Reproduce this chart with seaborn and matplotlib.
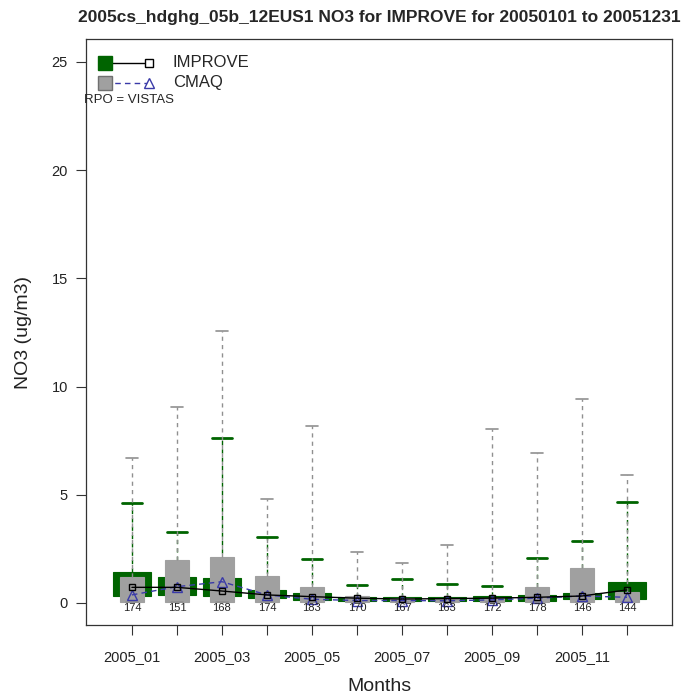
import numpy as np
import pandas as pd
import seaborn as sns
import matplotlib.pyplot as plt

# --- Datos (NO3, ug/m3) ---
months = ["2005_01", "2005_02", "2005_03", "2005_04", "2005_05", "2005_06",
          "2005_07", "2005_08", "2005_09", "2005_10", "2005_11", "2005_12"]
counts = [174, 151, 168, 174, 183, 170, 167, 163, 172, 178, 146, 144]

# IMPROVE (observaciones)
obs_q1 = [0.32, 0.37, 0.32, 0.22, 0.14, 0.11, 0.11, 0.11, 0.11, 0.11, 0.17, 0.17]
obs_q3 = [1.45, 1.19, 1.14, 0.60, 0.45, 0.29, 0.29, 0.29, 0.32, 0.37, 0.48, 0.98]
obs_med = [0.72, 0.72, 0.55, 0.37, 0.29, 0.22, 0.18, 0.20, 0.22, 0.26, 0.32, 0.60]
obs_whi = [4.62, 3.30, 7.64, 3.04, 2.05, 0.83, 1.11, 0.86, 0.79, 2.06, 2.88, 4.65]

# CMAQ (modelo)
mod_q1 = [0.06, 0.06, 0.06, 0.06, 0.06, 0.06, 0.06, 0.06, 0.06, 0.06, 0.06, 0.06]
mod_q3 = [1.20, 1.99, 2.11, 1.25, 0.72, 0.32, 0.23, 0.23, 0.25, 0.72, 1.63, 0.52]
mod_med = [0.37, 0.75, 0.98, 0.37, 0.17, 0.11, 0.11, 0.10, 0.14, 0.22, 0.32, 0.26]
mod_whi = [6.70, 9.06, 12.58, 4.80, 8.18, 2.37, 1.83, 2.68, 8.06, 6.95, 9.44, 5.91]

sns.set_theme(style="ticks")
plt.rcParams['font.family'] = ['Liberation Sans', 'DejaVu Sans']

green = "#006400"
gray = "#a0a0a0"
blue = "#3a3aa8"

fig = plt.figure(figsize=(6.83, 6.98), dpi=100)
ax = fig.add_axes([0.1259, 0.1046, 0.858, 0.8395])

x = np.arange(1, 13)

def make_stats(q1, q3, med, whi):
    return [{"q1": a, "q3": b, "med": m, "whislo": a, "whishi": w, "fliers": []}
            for a, b, m, w in zip(q1, q3, med, whi)]

# Cajas IMPROVE (verdes, anchas)
ax.bxp(make_stats(obs_q1, obs_q3, obs_med, obs_whi), positions=x, widths=0.83,
       capwidths=0.44, patch_artist=True, showfliers=False,
       boxprops=dict(facecolor=green, edgecolor=green, linewidth=0.8),
       whiskerprops=dict(color=green, linestyle=(0, (3, 3)), linewidth=1),
       capprops=dict(color=green, linewidth=2),
       medianprops=dict(color=green, linewidth=0))

# Cajas CMAQ (grises, estrechas)
ax.bxp(make_stats(mod_q1, mod_q3, mod_med, mod_whi), positions=x, widths=0.53,
       capwidths=0.27, patch_artist=True, showfliers=False,
       boxprops=dict(facecolor=gray, edgecolor=gray, linewidth=0.8),
       whiskerprops=dict(color="#909090", linestyle=(0, (3, 3)), linewidth=1),
       capprops=dict(color="#909090", linewidth=1.2),
       medianprops=dict(color=gray, linewidth=0))

# Líneas de medianas
df_obs = pd.DataFrame({"x": x, "med": obs_med})
df_mod = pd.DataFrame({"x": x, "med": mod_med})
sns.lineplot(data=df_mod, x="x", y="med", ax=ax, color=blue, linewidth=1,
             linestyle=(0, (4, 3)), marker="^", markersize=6.5,
             markerfacecolor="none", markeredgecolor=blue, markeredgewidth=1)
sns.lineplot(data=df_obs, x="x", y="med", ax=ax, color="black", linewidth=1,
             marker="s", markersize=5, markerfacecolor="none",
             markeredgecolor="black", markeredgewidth=1)

# Número de observaciones
for xi, n in zip(x, counts):
    ax.text(xi, -0.25, str(n), ha="center", va="center", fontsize=8, color="#222222")

ax.set_xlim(-0.02, 13.0)
ax.set_ylim(-1.02, 26.06)
ax.set_xticks(x)
ax.set_xticklabels([m if i % 2 == 0 else "" for i, m in enumerate(months)])
ax.set_yticks([0, 5, 10, 15, 20, 25])
ax.tick_params(axis="both", direction="out", length=7, width=0.8, color="#333333",
               labelsize=10.5, labelcolor="#222222")
ax.tick_params(axis="x", pad=11)
ax.tick_params(axis="y", pad=6)
for s in ax.spines.values():
    s.set_visible(True)
    s.set_color("#333333")
    s.set_linewidth(0.9)

ax.set_xlabel("Months", fontsize=14, labelpad=10, color="#222222")
ax.set_ylabel("NO3 (ug/m3)", fontsize=14, labelpad=14, color="#222222")
fig.suptitle("2005cs_hdghg_05b_12EUS1 NO3 for IMPROVE for 20050101 to 20051231",
             x=0.556, y=0.985, fontsize=12.5, fontweight="bold")

# Leyenda manual
tr = ax.transAxes
ax.plot([0.032, 0.107], [0.9596, 0.9596], color="black", lw=1, transform=tr)
ax.plot([0.032], [0.9596], marker="s", ms=10, color=green, mec=green, transform=tr, ls="none")
ax.plot([0.107], [0.9596], marker="s", ms=6, mfc="white", mec="black", mew=1, transform=tr, ls="none")
ax.text(0.148, 0.9596, "IMPROVE", fontsize=12, va="center", ha="left", transform=tr)
ax.plot([0.032, 0.107], [0.925, 0.925], color=blue, lw=1, ls=(0, (4, 3)), transform=tr)
ax.plot([0.032], [0.925], marker="s", ms=10, color=gray, mec="#707070", transform=tr, ls="none")
ax.plot([0.107], [0.925], marker="^", ms=7.5, mfc="white", mec=blue, mew=1, transform=tr, ls="none")
ax.text(0.148, 0.925, "CMAQ", fontsize=12, va="center", ha="left", transform=tr)
ax.text(-0.003, 0.896, "RPO = VISTAS", fontsize=9.5, va="center", ha="left", transform=tr)

fig.savefig("out.png", dpi=100)
